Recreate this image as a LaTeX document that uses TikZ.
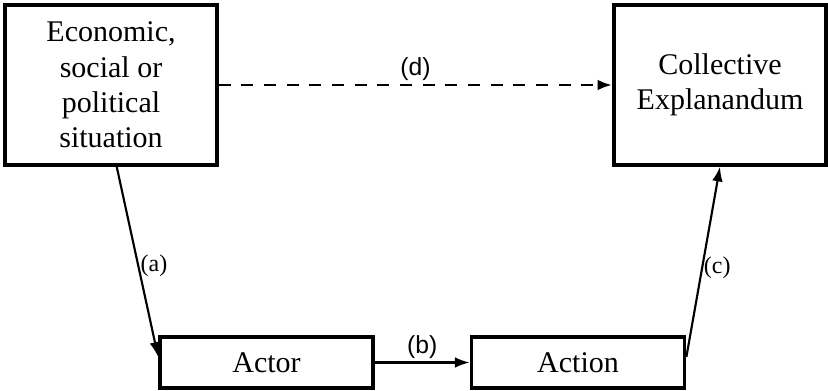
\documentclass[tikz,border=0pt]{standalone}
\usepackage{fontspec}
\setmainfont{Liberation Serif}
\newfontfamily\labelsans{Liberation Sans}
\usetikzlibrary{arrows.meta}
\tikzset{
    box/.style={rectangle,draw,line width=2.6pt,align=center,inner sep=0pt,
        font=\fontsize{22.5}{26.5}\selectfont},
    bigbox/.style={box,minimum width=159pt,minimum height=120pt},
    smallbox/.style={box,minimum width=160pt,minimum height=38pt},
    edgelabel/.style={font=\fontsize{18}{20}\selectfont,inner sep=1pt},
    sanslabel/.style={font=\labelsans\fontsize{18.5}{20}\selectfont,inner sep=2pt},
    directed/.style={arrows={-Latex[length=11pt,width=8pt]},line width=1.6pt},
    dashedline/.style={directed,line width=2.2pt,dash pattern=on 9pt off 8pt},
    }
\begin{document}
\begin{tikzpicture}[x=0.75pt,y=0.75pt]
    \useasboundingbox (0,0) rectangle (828,390);
		\node[bigbox] (sit) at (111,305) {Economic,\\ social or\\ political\\ situation};
		\node[bigbox] (expl) at (720,305) {Collective\\ Explanandum};
		\node[smallbox] (actor) at (266.5,27.5) {Actor};
		\node[smallbox] (action) at (578,27.5) {Action};

	\draw[directed] (sit.-86) to node[pos=0.52,right,edgelabel] {(a)} (actor.177);
	\draw[directed] (actor.east) to node[above,sanslabel] {(b)} (action.west);
	\draw[directed] (action.3) to node[pos=0.47,right,edgelabel,inner sep=0.5pt] {(c)} (expl.south);
	\draw[dashedline] (sit.east) to node[above,sanslabel] {(d)} (expl.west);
    \end{tikzpicture}
\end{document}
